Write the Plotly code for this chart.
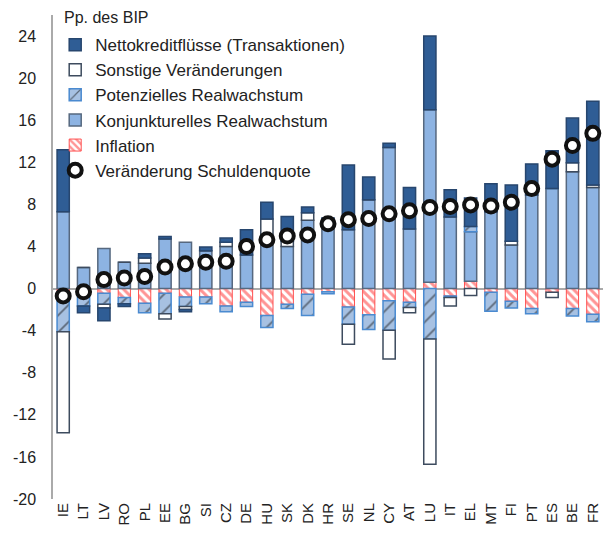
import plotly.graph_objects as go

# Countries (x axis)
countries = ["IE", "LT", "LV", "RO", "PL", "EE", "BG", "SI", "CZ", "DE", "HU", "SK", "DK", "HR",
             "SE", "NL", "CY", "AT", "LU", "IT", "EL", "MT", "FI", "PT", "ES", "BE", "FR"]

# Contributions, pp. of GDP
inflation = [-0.3, -0.15, -0.45, -0.85, -1.4, -0.45, -0.8, -0.8, -1.65, -1.3, -2.55, -1.5, -0.55, -0.3,
             -1.75, -2.5, -1.15, -1.3, 0.6, -0.7, 0.7, -0.35, -1.2, -1.9, -0.35, -1.9, -2.45]
konjunktur = [7.3, 2.0, 3.8, 2.5, 2.4, 4.7, 4.4, 3.6, 4.0, 3.2, 4.5, 4.0, 6.5, 6.45,
              5.6, 8.45, 13.4, 5.65, 16.4, 6.8, 4.7, 7.3, 4.15, 8.9, 9.5, 11.1, 9.6]
potenziell = [-3.8, -1.5, -1.05, -0.6, -0.9, -1.95, -0.9, -0.65, -0.55, -0.4, -1.15, -0.4, -2.0, -0.2,
              -1.65, -1.4, -2.8, -0.5, -4.8, -0.15, 0.5, -1.8, -0.65, -0.5, 0.0, -0.7, -0.7]
sonstige = [-9.6, 0.0, -0.35, 0.0, 0.5, -0.5, -0.3, 0.0, 0.4, 0.0, 2.1, 0.5, 0.7, 0.0,
            -1.9, 0.0, -2.75, -0.5, -11.9, -0.8, -0.65, 0.0, 0.35, 0.0, -0.5, 0.85, 0.25]
netto = [5.9, -0.65, -1.2, -0.25, 0.4, 0.25, -0.2, 0.35, 0.4, 2.4, 1.6, 2.35, 0.55, 0.25,
         6.15, 2.15, 0.4, 3.95, 7.0, 2.6, 2.7, 2.65, 5.35, 2.95, 3.6, 4.25, 7.95]
schuldenquote = [-0.7, -0.3, 0.85, 1.0, 1.15, 2.05, 2.35, 2.5, 2.6, 4.0, 4.65, 5.0, 5.1, 6.15,
                 6.55, 6.65, 7.1, 7.4, 7.7, 7.8, 7.95, 7.85, 8.2, 9.5, 12.3, 13.6, 14.75]

y_ticks = [-20, -16, -12, -8, -4, 0, 4, 8, 12, 16, 20, 24]

fig = go.Figure()

fig.add_trace(go.Bar(
    x=countries, y=inflation, name="Inflation", legendrank=5,
    marker=dict(color="white", line=dict(color="#ff5050", width=1),
                pattern=dict(shape="\\", fgcolor="#ff2a2a", bgcolor="white", size=6, solidity=0.5)),
))
fig.add_trace(go.Bar(
    x=countries, y=konjunktur, name="Konjunkturelles Realwachstum", legendrank=4,
    marker=dict(color="#8db3e2", line=dict(color="#56687f", width=1.5)),
))
fig.add_trace(go.Bar(
    x=countries, y=potenziell, name="Potenzielles Realwachstum", legendrank=3,
    marker=dict(color="#a7c1e2", line=dict(color="#4a8ad0", width=1.5),
                pattern=dict(shape="/", fgcolor="#111111", bgcolor="#a7c1e2", size=12, solidity=0.15)),
))
fig.add_trace(go.Bar(
    x=countries, y=sonstige, name="Sonstige Veränderungen", legendrank=2,
    marker=dict(color="white", line=dict(color="#3d4b5e", width=1.5)),
))
fig.add_trace(go.Bar(
    x=countries, y=netto, name="Nettokreditflüsse (Transaktionen)", legendrank=1,
    marker=dict(color="#2f5d95", line=dict(color="#27466e", width=1.5)),
))
fig.add_trace(go.Scatter(
    x=countries, y=schuldenquote, name="Veränderung Schuldenquote", legendrank=6,
    mode="markers",
    marker=dict(symbol="circle", size=13, color="white", line=dict(color="#111111", width=4)),
))

fig.update_layout(
    barmode="relative",
    bargap=0.4,
    width=603, height=536,
    margin=dict(l=53, r=0, t=15, b=37),
    plot_bgcolor="white", paper_bgcolor="white",
    font=dict(family="Liberation Sans, Arial, sans-serif", color="#222222"),
    showlegend=True,
    legend=dict(x=0.004, y=0.975, xanchor="left", yanchor="top",
                bgcolor="rgba(0,0,0,0)", font=dict(size=17), itemwidth=30,
                tracegroupgap=0),
    annotations=[dict(text="Pp. des BIP", x=0.016, y=0.994, xref="paper", yref="paper",
                      xanchor="left", yanchor="middle", showarrow=False, font=dict(size=16))],
)
fig.update_xaxes(range=[-0.5, len(countries) - 0.5], tickmode="array", tickvals=countries,
                 tickangle=-90, tickfont=dict(size=15),
                 showline=False, showgrid=False, ticks="", automargin=False)
fig.update_yaxes(range=[-20, 26], tickvals=y_ticks, ticktext=[str(v) for v in y_ticks],
                 tickfont=dict(size=16), showgrid=False, showline=True, linecolor="#aaaaaa",
                 linewidth=1.5, zeroline=True, zerolinecolor="#aaaaaa", zerolinewidth=2,
                 ticks="", ticklabelstandoff=12, automargin=False)

# drop the default 8px page margin so the figure fills the window exactly
fig.write_html("out.html", config={"displayModeBar": False},
               post_script="document.body.style.margin='0';")
